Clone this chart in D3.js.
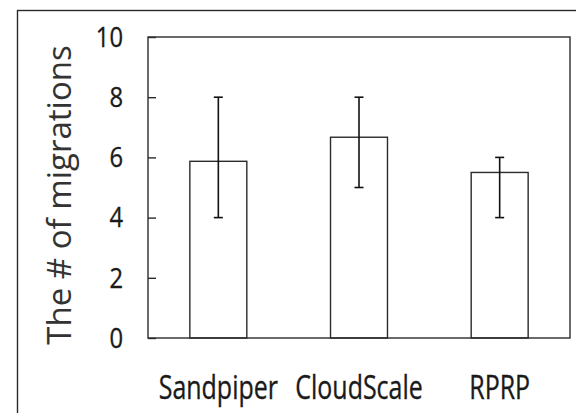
<!DOCTYPE html>
<html>
<head>
<meta charset="utf-8">
<script src="https://cdn.jsdelivr.net/npm/d3@7"></script>
<style>
  html, body { margin: 0; padding: 0; background: #fff; }
  svg { display: block; }
  text { font-family: "Open Sans", "Noto Sans", sans-serif; fill: #1a1a1a; }
</style>
</head>
<body>
<svg id="chart" width="576" height="413"></svg>
<script>
// Number of migrations per scheme, with min/max whiskers
const categories = ["Sandpiper", "CloudScale", "RPRP"];
const means = [5.87, 6.67, 5.5];
const lows = [4, 5, 4];
const highs = [8, 8, 6];
const yTicks = [0, 2, 4, 6, 8, 10];
const yTitle = "The # of migrations";

const svg = d3.select("#chart");
const W = 576, H = 413;
const plot = { left: 148, right: 570, top: 37, bottom: 338 };
const ink = "#2b2b2b";

// outer figure frame (runs off the right and bottom edges)
svg.append("rect")
  .attr("x", 17.5).attr("y", 10.5)
  .attr("width", W + 40).attr("height", H + 40)
  .attr("fill", "none").attr("stroke", ink).attr("stroke-width", 1.4);

const x = d3.scaleBand()
  .domain(categories)
  .range([plot.left, plot.right])
  .paddingInner(0.595)
  .paddingOuter(0.2975);

const y = d3.scaleLinear().domain([0, 10]).range([plot.bottom, plot.top]);

// y axis: inward ticks, labels drawn separately
const yAxis = d3.axisRight(y).tickValues(yTicks).tickSize(8).tickFormat("");
const gy = svg.append("g").attr("transform", `translate(${plot.left},0)`).call(yAxis);
gy.select(".domain").remove();
gy.selectAll(".tick line").attr("stroke", ink).attr("stroke-width", 1.4);

svg.append("g").selectAll("text").data(yTicks).join("text")
  .attr("transform", d => `translate(123,${y(d)}) scale(0.88,1)`)
  .attr("dy", "0.36em")
  .attr("text-anchor", "end")
  .style("font-size", "27px")
  .style("stroke", "#1a1a1a").style("stroke-width", 0.35)
  .text(d => d);

// bars
const rows = categories.map((c, i) => ({ c, m: means[i], lo: lows[i], hi: highs[i] }));
svg.append("g").selectAll("rect").data(rows).join("rect")
  .attr("x", d => x(d.c))
  .attr("y", d => y(d.m))
  .attr("width", x.bandwidth())
  .attr("height", d => y(0) - y(d.m))
  .attr("fill", "#fff")
  .attr("stroke", ink)
  .attr("stroke-width", 1.4);

// error whiskers
const eg = svg.append("g").attr("stroke", "#111").attr("stroke-width", 1.6);
const cx = d => x(d.c) + x.bandwidth() / 2;
eg.selectAll("line.v").data(rows).join("line").attr("class", "v")
  .attr("x1", cx).attr("x2", cx)
  .attr("y1", d => y(d.lo)).attr("y2", d => y(d.hi));
eg.selectAll("line.t").data(rows).join("line").attr("class", "t")
  .attr("x1", d => cx(d) - 4.5).attr("x2", d => cx(d) + 4.5)
  .attr("y1", d => y(d.hi)).attr("y2", d => y(d.hi));
eg.selectAll("line.b").data(rows).join("line").attr("class", "b")
  .attr("x1", d => cx(d) - 4.5).attr("x2", d => cx(d) + 4.5)
  .attr("y1", d => y(d.lo)).attr("y2", d => y(d.lo));

// plot frame
svg.append("rect")
  .attr("x", plot.left).attr("y", plot.top)
  .attr("width", plot.right - plot.left).attr("height", plot.bottom - plot.top)
  .attr("fill", "none").attr("stroke", ink).attr("stroke-width", 1.4);

// category labels (narrow set)
svg.append("g").selectAll("text").data(categories).join("text")
  .attr("transform", d => `translate(${x(d) + x.bandwidth() / 2},399) scale(0.78,1)`)
  .attr("text-anchor", "middle")
  .style("font-size", "32px")
  .style("stroke", "#1a1a1a").style("stroke-width", 0.35)
  .text(d => d);

// y axis title
svg.append("text")
  .attr("transform", "translate(71,195) rotate(-90)")
  .attr("text-anchor", "middle")
  .style("font-size", "33px")
  .style("fill", "#333")
  .text(yTitle);
</script>
</body>
</html>
